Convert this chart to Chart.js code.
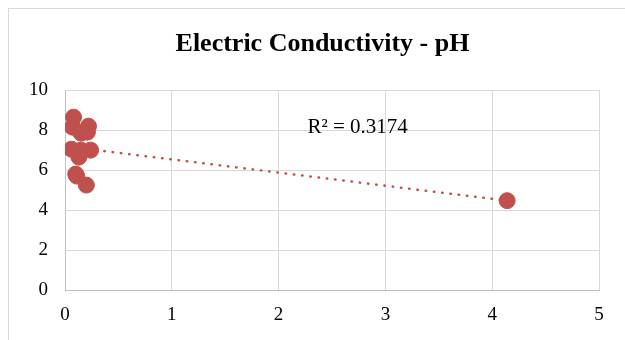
<!DOCTYPE html>
<html>
<head>
<meta charset="utf-8">
<script src="https://cdn.jsdelivr.net/npm/chart.js@4"></script>
<style>
  html, body { margin: 0; padding: 0; background: #fff; }
  #wrap { position: relative; width: 625px; height: 340px; overflow: hidden; }
  #frame { position: absolute; left: 8px; top: 8px; width: 700px; height: 400px; border: 1px solid #d9d9d9; }
  canvas { position: absolute; left: 0; top: 0; }
</style>
</head>
<body>
<div id="wrap">
  <div id="frame"></div>
  <canvas id="chart" width="625" height="340"></canvas>
</div>
<script>
// electric conductivity (x) vs pH (y) samples
const ecValues = [0.08, 0.07, 0.22, 0.15, 0.21, 0.06, 0.15, 0.24, 0.13, 0.10, 0.11, 0.20, 4.14];
const phValues = [8.65, 8.15, 8.20, 7.85, 7.90, 7.05, 7.00, 7.00, 6.65, 5.80, 5.70, 5.25, 4.47];
const xTicks = [0, 1, 2, 3, 4, 5];
const yTicks = [0, 2, 4, 6, 8, 10];
const rSquaredText = 'R² = 0.3174';

const red = '#C0504D';
const serif = '"Liberation Serif", "Times New Roman", serif';

// least squares fit for the trendline
const n = ecValues.length;
const mx = ecValues.reduce((a, b) => a + b, 0) / n;
const my = phValues.reduce((a, b) => a + b, 0) / n;
let sxy = 0, sxx = 0;
ecValues.forEach((x, i) => { sxy += (x - mx) * (phValues[i] - my); sxx += (x - mx) * (x - mx); });
const slope = sxy / sxx;
const intercept = my - slope * mx;
const xMin = Math.min(...ecValues), xMax = Math.max(...ecValues);

const points = ecValues.map((x, i) => ({ x: x, y: phValues[i] }));
const trend = [xMin, xMax].map(x => ({ x: x, y: intercept + slope * x }));

const labelPlugin = {
  id: 'rsq',
  afterDatasetsDraw(chart) {
    const { ctx, scales } = chart;
    ctx.save();
    ctx.font = '21px ' + serif;
    ctx.fillStyle = '#000';
    ctx.textBaseline = 'middle';
    ctx.textAlign = 'left';
    ctx.fillText(rSquaredText, scales.x.getPixelForValue(2.27), scales.y.getPixelForValue(8.15));
    ctx.restore();
  }
};

new Chart(document.getElementById('chart'), {
  type: 'scatter',
  data: {
    datasets: [
      {
        type: 'line',
        data: trend,
        borderColor: red,
        borderWidth: 2.5,
        borderDash: [0.5, 7.8],
        borderCapStyle: 'round',
        pointRadius: 0,
        fill: false,
        order: 2
      },
      {
        data: points,
        backgroundColor: red,
        borderColor: red,
        pointRadius: 8,
        order: 1
      }
    ]
  },
  options: {
    responsive: false,
    animation: false,
    layout: { padding: { left: 20, right: 0, top: 0, bottom: 0 } },
    plugins: {
      legend: { display: false },
      tooltip: { enabled: false },
      title: {
        display: true,
        text: 'Electric Conductivity - pH',
        color: '#000',
        font: { family: serif, size: 26, weight: 'bold' },
        padding: { top: 29, bottom: 30 }
      }
    },
    scales: {
      x: {
        type: 'linear',
        min: 0, max: 5,
        afterBuildTicks: s => { s.ticks = xTicks.map(v => ({ value: v })); },
        afterFit: s => { s.height = 50; },
        grid: { color: '#d9d9d9', drawTicks: false },
        border: { color: '#bfbfbf' },
        ticks: { color: '#000', padding: 14, font: { family: serif, size: 19 } }
      },
      y: {
        min: 0, max: 10,
        afterBuildTicks: s => { s.ticks = yTicks.map(v => ({ value: v })); },
        afterFit: s => { s.width = 45; },
        grid: { color: '#d9d9d9', drawTicks: false },
        border: { color: '#bfbfbf' },
        ticks: { color: '#000', padding: 17, font: { family: serif, size: 19 } }
      },
      // empty right-hand gutter so the plot stops short of the frame edge
      gutter: {
        type: 'linear',
        position: 'right',
        afterFit: s => { s.width = 26; },
        grid: { display: false },
        border: { display: false },
        ticks: { display: false }
      }
    }
  },
  plugins: [labelPlugin]
});
</script>
</body>
</html>
